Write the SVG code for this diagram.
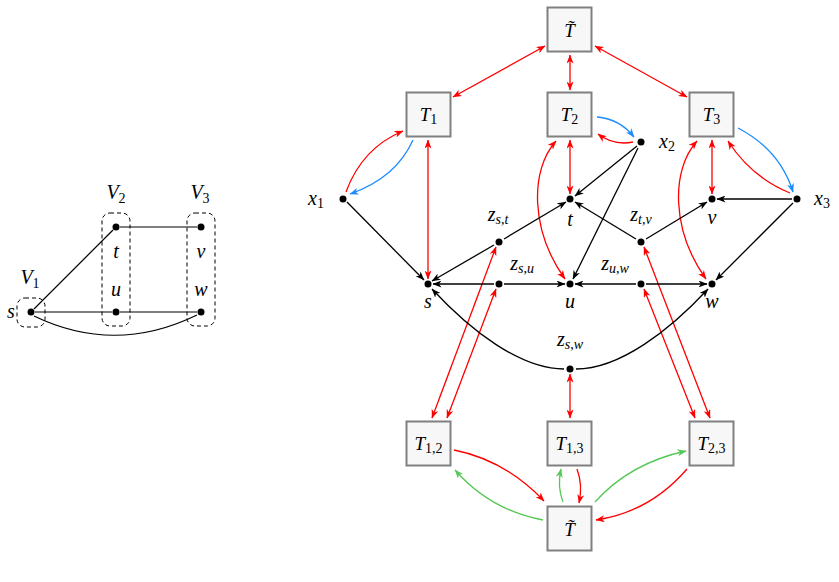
<svg xmlns="http://www.w3.org/2000/svg" width="839" height="582" viewBox="0 0 839 582">
<defs>
<style>
text{font-family:'Liberation Serif','Times New Roman',serif;font-style:italic;fill:#000;}
.lab{font-size:20px;}
.zl{font-size:20px;}
.bx{font-size:19px;}
.sub{font-size:14px;}
.up{font-style:normal;}
.box{fill:#f7f7f7;stroke:#808080;stroke-width:2;}
.dot{fill:#000;}
.e{fill:none;stroke-width:1.3;}
.k{stroke:#000;}
.r{stroke:#ff0000;}
.b{stroke:#1a8cff;}
.g{stroke:#55c855;}
.dash{fill:none;stroke:#000;stroke-width:1;stroke-dasharray:4,3;}
.ln{stroke:#000;stroke-width:1.2;fill:none;}
</style>
<marker id="ak" viewBox="0 0 9 7" refX="8.5" refY="3.5" markerWidth="9" markerHeight="7" markerUnits="userSpaceOnUse" orient="auto-start-reverse"><path d="M0,0 L9,3.5 L0,7 L2.5,3.5z" fill="#000"/></marker>
<marker id="ar" viewBox="0 0 9 7" refX="8.5" refY="3.5" markerWidth="9" markerHeight="7" markerUnits="userSpaceOnUse" orient="auto-start-reverse"><path d="M0,0 L9,3.5 L0,7 L2.5,3.5z" fill="#ff0000"/></marker>
<marker id="ab" viewBox="0 0 9 7" refX="8.5" refY="3.5" markerWidth="9" markerHeight="7" markerUnits="userSpaceOnUse" orient="auto-start-reverse"><path d="M0,0 L9,3.5 L0,7 L2.5,3.5z" fill="#1a8cff"/></marker>
<marker id="ag" viewBox="0 0 9 7" refX="8.5" refY="3.5" markerWidth="9" markerHeight="7" markerUnits="userSpaceOnUse" orient="auto-start-reverse"><path d="M0,0 L9,3.5 L0,7 L2.5,3.5z" fill="#55c855"/></marker>
</defs>
<rect width="839" height="582" fill="#fff"/>

<g id="left-graph">
<g id="left-groups">
<rect class="dash" x="17" y="298" width="28" height="29" rx="8"/>
<rect class="dash" x="102" y="213" width="28" height="113" rx="8"/>
<rect class="dash" x="187" y="213" width="28" height="113" rx="8"/>
<text class="lab" x="30" y="284" text-anchor="middle">V<tspan class="sub up" dy="4">1</tspan></text>
<text class="lab" x="116" y="199" text-anchor="middle">V<tspan class="sub up" dy="4">2</tspan></text>
<text class="lab" x="200" y="199" text-anchor="middle">V<tspan class="sub up" dy="4">3</tspan></text>
</g>
<g id="left-edges">
<line class="ln" x1="34" y1="309" x2="113" y2="230"/>
<line class="ln" x1="35" y1="312" x2="112" y2="312"/>
<line class="ln" x1="120" y1="227" x2="197" y2="227"/>
<line class="ln" x1="120" y1="312" x2="197" y2="312"/>
<path class="ln" d="M34,316 Q115,355 197,315"/>
</g>
<g id="ls"><circle class="dot" cx="31" cy="312" r="3.5"/><text class="lab" x="11" y="318" text-anchor="middle">s</text></g>
<g id="lt"><circle class="dot" cx="116" cy="227" r="3.5"/><text class="lab" x="116" y="258" text-anchor="middle">t</text></g>
<g id="lu"><circle class="dot" cx="116" cy="312" r="3.5"/><text class="lab" x="116" y="296" text-anchor="middle">u</text></g>
<g id="lv"><circle class="dot" cx="201" cy="227" r="3.5"/><text class="lab" x="201" y="258" text-anchor="middle">v</text></g>
<g id="lw"><circle class="dot" cx="201" cy="312" r="3.5"/><text class="lab" x="201" y="296" text-anchor="middle">w</text></g>
</g>

<g id="connectors">
<line class="e r" x1="545" y1="46" x2="453" y2="97" marker-start="url(#ar)" marker-end="url(#ar)"/>
<line class="e r" x1="570" y1="55" x2="570" y2="90" marker-start="url(#ar)" marker-end="url(#ar)"/>
<line class="e r" x1="595" y1="46" x2="687" y2="97" marker-start="url(#ar)" marker-end="url(#ar)"/>
<line class="e r" x1="428" y1="140" x2="428" y2="279" marker-start="url(#ar)" marker-end="url(#ar)"/>
<line class="e r" x1="570" y1="140" x2="570" y2="194" marker-start="url(#ar)" marker-end="url(#ar)"/>
<line class="e r" x1="712" y1="140" x2="712" y2="194" marker-start="url(#ar)" marker-end="url(#ar)"/>
<line class="e r" x1="570" y1="374" x2="570" y2="418" marker-start="url(#ar)" marker-end="url(#ar)"/>
<path class="e r" d="M556,141 C530,170 530,230 565,279" marker-start="url(#ar)" marker-end="url(#ar)"/>
<path class="e r" d="M697,141 C671,170 671,230 706,279" marker-start="url(#ar)" marker-end="url(#ar)"/>
<line class="e r" x1="432" y1="418" x2="496" y2="247" marker-start="url(#ar)" marker-end="url(#ar)"/>
<line class="e r" x1="447" y1="418" x2="496" y2="289" marker-start="url(#ar)" marker-end="url(#ar)"/>
<line class="e r" x1="710" y1="418" x2="644" y2="247" marker-start="url(#ar)" marker-end="url(#ar)"/>
<line class="e r" x1="695" y1="418" x2="644" y2="289" marker-start="url(#ar)" marker-end="url(#ar)"/>
<path class="e r" d="M346,192 Q362,148 403,131" marker-end="url(#ar)"/>
<path class="e b" d="M413,140 Q396,178 350,194" marker-end="url(#ab)"/>
<path class="e b" d="M597,117 Q620,119 634,137" marker-end="url(#ab)"/>
<path class="e r" d="M633,142 Q614,146 598,134" marker-end="url(#ar)"/>
<path class="e b" d="M738,128 Q780,150 793,192" marker-end="url(#ab)"/>
<path class="e r" d="M790,193 Q751,177 728,141" marker-end="url(#ar)"/>
<path class="e r" d="M454,450 Q505,460 544,501" marker-end="url(#ar)"/>
<path class="e g" d="M543,520 Q490,510 455,470" marker-end="url(#ag)"/>
<path class="e g" d="M563,502 Q557,487 561,469" marker-end="url(#ag)"/>
<path class="e r" d="M577,469 Q583,485 579,503" marker-end="url(#ar)"/>
<path class="e g" d="M595,502 Q630,463 686,451" marker-end="url(#ag)"/>
<path class="e r" d="M687,469 Q650,512 596,520" marker-end="url(#ar)"/>
<line class="e k" x1="347" y1="202" x2="424" y2="280" marker-end="url(#ak)"/>
<line class="e k" x1="494" y1="245" x2="432" y2="281" marker-end="url(#ak)"/>
<line class="e k" x1="504" y1="239" x2="566" y2="202" marker-end="url(#ak)"/>
<line class="e k" x1="494" y1="284" x2="433" y2="284" marker-end="url(#ak)"/>
<line class="e k" x1="504" y1="284" x2="565" y2="284" marker-end="url(#ak)"/>
<line class="e k" x1="636" y1="284" x2="575" y2="284" marker-end="url(#ak)"/>
<line class="e k" x1="646" y1="284" x2="707" y2="284" marker-end="url(#ak)"/>
<line class="e k" x1="636" y1="239" x2="575" y2="202" marker-end="url(#ak)"/>
<line class="e k" x1="646" y1="239" x2="707" y2="202" marker-end="url(#ak)"/>
<line class="e k" x1="637" y1="146" x2="575" y2="196" marker-end="url(#ak)"/>
<line class="e k" x1="638" y1="148" x2="573" y2="279" marker-end="url(#ak)"/>
<line class="e k" x1="792" y1="199" x2="717" y2="199" marker-end="url(#ak)"/>
<line class="e k" x1="793" y1="203" x2="716" y2="280" marker-end="url(#ak)"/>
<path class="e k" d="M564,369 C520,369 470,330 432,289" marker-end="url(#ak)"/>
<path class="e k" d="M576,369 C620,369 670,330 708,289" marker-end="url(#ak)"/>
</g>

<g id="Ttop"><rect class="box" x="547.5" y="7.5" width="44" height="44"/><text class="bx" x="569.5" y="37" text-anchor="middle">T̃</text></g>
<g id="T1"><rect class="box" x="406.5" y="92.5" width="44" height="44"/><text class="bx" x="428.5" y="121" text-anchor="middle">T<tspan class="sub up" dy="3">1</tspan></text></g>
<g id="T2"><rect class="box" x="547.5" y="92.5" width="44" height="44"/><text class="bx" x="569.5" y="121" text-anchor="middle">T<tspan class="sub up" dy="3">2</tspan></text></g>
<g id="T3"><rect class="box" x="689.5" y="92.5" width="44" height="44"/><text class="bx" x="711.5" y="121" text-anchor="middle">T<tspan class="sub up" dy="3">3</tspan></text></g>
<g id="T12"><rect class="box" x="406.5" y="421.5" width="44" height="44"/><text class="bx" x="428.5" y="450" text-anchor="middle">T<tspan class="sub up" dy="3">1,2</tspan></text></g>
<g id="T13"><rect class="box" x="547.5" y="421.5" width="44" height="44"/><text class="bx" x="569.5" y="450" text-anchor="middle">T<tspan class="sub up" dy="3">1,3</tspan></text></g>
<g id="T23"><rect class="box" x="689.5" y="421.5" width="44" height="44"/><text class="bx" x="711.5" y="450" text-anchor="middle">T<tspan class="sub up" dy="3">2,3</tspan></text></g>
<g id="Tbot"><rect class="box" x="547.5" y="506.5" width="44" height="44"/><text class="bx" x="569.5" y="536" text-anchor="middle">T̃</text></g>

<g id="x1"><circle class="dot" cx="343" cy="199" r="3.5"/><text class="lab" x="316" y="205" text-anchor="middle">x<tspan class="sub up" dy="3">1</tspan></text></g>
<g id="x2"><circle class="dot" cx="641" cy="142" r="3.5"/><text class="lab" x="667" y="148" text-anchor="middle">x<tspan class="sub up" dy="3">2</tspan></text></g>
<g id="x3"><circle class="dot" cx="797" cy="199" r="3.5"/><text class="lab" x="822" y="205" text-anchor="middle">x<tspan class="sub up" dy="3">3</tspan></text></g>
<g id="t"><circle class="dot" cx="570" cy="199" r="3.5"/><text class="lab" x="570" y="226" text-anchor="middle">t</text></g>
<g id="v"><circle class="dot" cx="712" cy="199" r="3.5"/><text class="lab" x="712" y="224" text-anchor="middle">v</text></g>
<g id="s"><circle class="dot" cx="428" cy="284" r="3.5"/><text class="lab" x="428" y="308" text-anchor="middle">s</text></g>
<g id="u"><circle class="dot" cx="570" cy="284" r="3.5"/><text class="lab" x="570" y="308" text-anchor="middle">u</text></g>
<g id="w"><circle class="dot" cx="712" cy="284" r="3.5"/><text class="lab" x="712" y="308" text-anchor="middle">w</text></g>
<g id="zst"><circle class="dot" cx="499" cy="242" r="3.5"/><text class="zl" x="498" y="221" text-anchor="middle">z<tspan class="sub" dy="3">s<tspan class="up">,</tspan>t</tspan></text></g>
<g id="zsu"><circle class="dot" cx="499" cy="284" r="3.5"/><text class="zl" x="522" y="270" text-anchor="middle">z<tspan class="sub" dy="3">s<tspan class="up">,</tspan>u</tspan></text></g>
<g id="zuw"><circle class="dot" cx="641" cy="284" r="3.5"/><text class="zl" x="615" y="270" text-anchor="middle">z<tspan class="sub" dy="3">u<tspan class="up">,</tspan>w</tspan></text></g>
<g id="ztv"><circle class="dot" cx="641" cy="242" r="3.5"/><text class="zl" x="641" y="221" text-anchor="middle">z<tspan class="sub" dy="3">t<tspan class="up">,</tspan>v</tspan></text></g>
<g id="zsw"><circle class="dot" cx="570" cy="369" r="3.5"/><text class="zl" x="570" y="346" text-anchor="middle">z<tspan class="sub" dy="3">s<tspan class="up">,</tspan>w</tspan></text></g>
</svg>
